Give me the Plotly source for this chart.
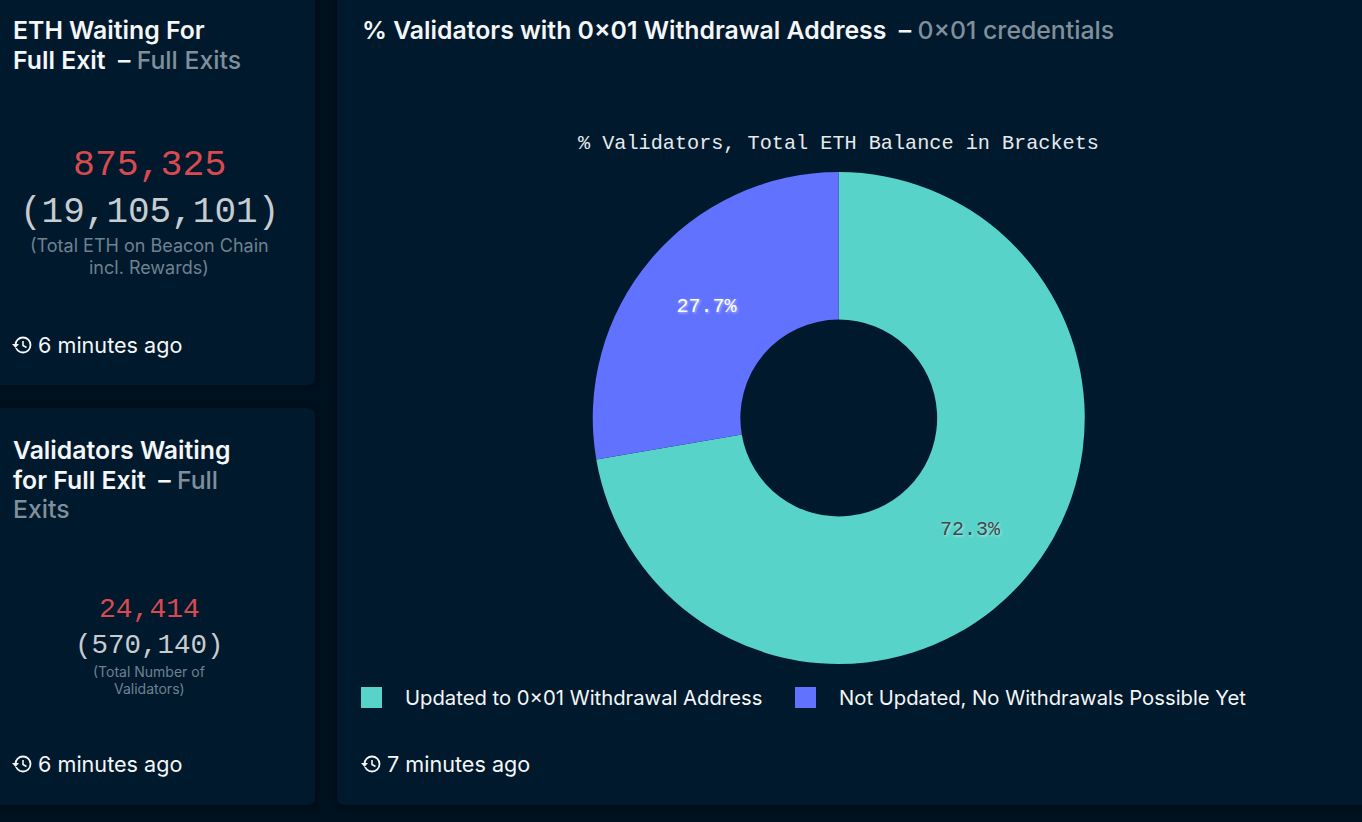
import plotly.graph_objects as go

# values
labels = ["Updated to 0×01 Withdrawal Address", "Not Updated, No Withdrawals Possible Yet"]
shares = [72.3, 27.7]
colors = ["#58d3c9", "#6072fe"]
label_colors = ["#3d4a4c", "#ffffff"]

eth_waiting = "875,325"
eth_total = "(19,105,101)"
validators_waiting = "24,414"
validators_total = "(570,140)"

W, H = 1362, 822
PAGE = "#00121f"
CARD = "#00192c"
SANS = "Inter"
MONO = "Liberation Mono"
WHITE = "#f4f6f7"
MUTED = "#7f8f9b"
SMALL = "#6e8191"
RED = "#d84a50"
GREY = "#c6ccd0"


def px(x):
    return x / W


def py(y):
    return 1 - y / H


annotations = []
shapes = []


def text(x, y, s, size, color=WHITE, family=SANS, anchor="left", weight=400):
    # annotations keep a small inner padding, so shift left aligned text back a bit
    annotations.append(dict(
        x=px(x), y=py(y), xref="paper", yref="paper", text=s, showarrow=False,
        xanchor=anchor, yanchor="middle", align=anchor, borderpad=0, borderwidth=0,
        xshift=-1 if anchor == "left" else 0,
        font=dict(family=family, size=size, color=color, weight=weight),
    ))


def muted(s):
    return f"<span style='color:{MUTED};font-weight:500'>{s}</span>"


def card(x0, y0, x1, y1, r=8):
    # soft edge first, then the card itself
    for grow, alpha in [(9, 0.05), (6, 0.08), (3, 0.12)]:
        shapes.append(dict(type="rect", xref="paper", yref="paper", layer="below",
                           x0=px(x0 - grow), x1=px(x1 + grow), y0=py(y0 - grow), y1=py(y1 + grow),
                           fillcolor=f"rgba(0,6,12,{alpha})", line_width=0))
    path = (f"M {px(x0 + r)} {py(y0)} L {px(x1 - r)} {py(y0)} Q {px(x1)} {py(y0)} {px(x1)} {py(y0 + r)} "
            f"L {px(x1)} {py(y1 - r)} Q {px(x1)} {py(y1)} {px(x1 - r)} {py(y1)} "
            f"L {px(x0 + r)} {py(y1)} Q {px(x0)} {py(y1)} {px(x0)} {py(y1 - r)} "
            f"L {px(x0)} {py(y0 + r)} Q {px(x0)} {py(y0)} {px(x0 + r)} {py(y0)} Z")
    shapes.append(dict(type="path", path=path, xref="paper", yref="paper", layer="below",
                       fillcolor=CARD, line_width=0))


def history_icon(cx, cy):
    # small clock with the arrow on its left, like the "updated" icon of the dashboard
    r = 7.5
    shapes.append(dict(type="circle", xref="paper", yref="paper",
                       x0=px(cx - r), x1=px(cx + r), y0=py(cy - r), y1=py(cy + r),
                       line=dict(color=WHITE, width=1.8)))
    shapes.append(dict(type="rect", xref="paper", yref="paper",
                       x0=px(cx - r - 2), x1=px(cx - r + 2), y0=py(cy - 1), y1=py(cy + 3),
                       fillcolor=CARD, line_width=0))
    shapes.append(dict(type="path", xref="paper", yref="paper", line_width=0, fillcolor=WHITE,
                       path=f"M {px(cx - r - 3.5)} {py(cy - 1)} L {px(cx - r + 3.5)} {py(cy - 1)} "
                            f"L {px(cx - r)} {py(cy + 3)} Z"))
    shapes.append(dict(type="path", xref="paper", yref="paper", line=dict(color=WHITE, width=1.6),
                       path=f"M {px(cx)} {py(cy - 4)} L {px(cx)} {py(cy + 0.5)} L {px(cx + 3.5)} {py(cy + 2.5)}"))


card(-20, -20, 315, 385)
card(-20, 408, 315, 805)
card(337, -20, 1400, 805)

# left cards
text(14, 30, "ETH Waiting For", 24.8, weight=600)
text(14, 60, f"Full Exit  – {muted('Full Exits')}", 24.8, weight=600)
text(149, 165, eth_waiting, 36.5, RED, MONO, "center")
text(149, 212, eth_total, 36, GREY, MONO, "center")
text(149, 245, "(Total ETH on Beacon Chain", 18, SMALL, anchor="center")
text(149, 267, "incl. Rewards)", 18, SMALL, anchor="center")
history_icon(23, 345)
text(39, 345, "6 minutes ago", 21.6)

text(14, 450, "Validators Waiting", 24.8, weight=600)
text(14, 480, f"for Full Exit  – {muted('Full')}", 24.8, weight=600)
text(14, 509, muted("Exits"), 24.8, MUTED, weight=500)
text(149, 609, validators_waiting, 28, RED, MONO, "center")
text(149, 645, validators_total, 27.5, GREY, MONO, "center")
text(149, 671, "(Total Number of", 14, SMALL, anchor="center")
text(149, 688, "Validators)", 14, SMALL, anchor="center")
history_icon(23, 764)
text(39, 764, "6 minutes ago", 21.6)

# main card
text(363, 30, f"% Validators with 0×01 Withdrawal Address  – {muted('0×01 credentials')}", 24.8, weight=600)
text(838, 143.5, "% Validators, Total ETH Balance in Brackets", 20.2, "#e6eaec", MONO, "center")
history_icon(372, 764)
text(388, 764, "7 minutes ago", 21.6)

# legend row
legend_x = [361, 795]
for i, name in enumerate(labels):
    shapes.append(dict(type="rect", xref="paper", yref="paper",
                       x0=px(legend_x[i]), x1=px(legend_x[i] + 21), y0=py(687), y1=py(708),
                       fillcolor=colors[i], line_width=0))
    text(legend_x[i] + 45, 697.5, name, 20.25)

fig = go.Figure(go.Pie(
    labels=labels,
    values=shares,
    sort=False,
    direction="clockwise",
    rotation=0,
    hole=0.4,
    marker=dict(colors=colors, line=dict(width=0)),
    textinfo="percent",
    texttemplate="%{percent:.1%}",
    textposition="inside",
    insidetextorientation="horizontal",
    insidetextfont=dict(family=MONO, size=20, color=label_colors,
                        shadow="1px 1px 3px rgba(255,255,255,0.6)"),
    domain=dict(x=[px(592.5), px(1085)], y=[py(664), py(172)]),
    showlegend=False,
))

fig.update_layout(
    width=W, height=H,
    margin=dict(l=0, r=0, t=0, b=0),
    paper_bgcolor=PAGE,
    annotations=annotations,
    shapes=shapes,
)

fig.write_html("out.html", config={"displayModeBar": False},
               post_script="document.body.style.margin='0';document.body.style.overflow='hidden';")
